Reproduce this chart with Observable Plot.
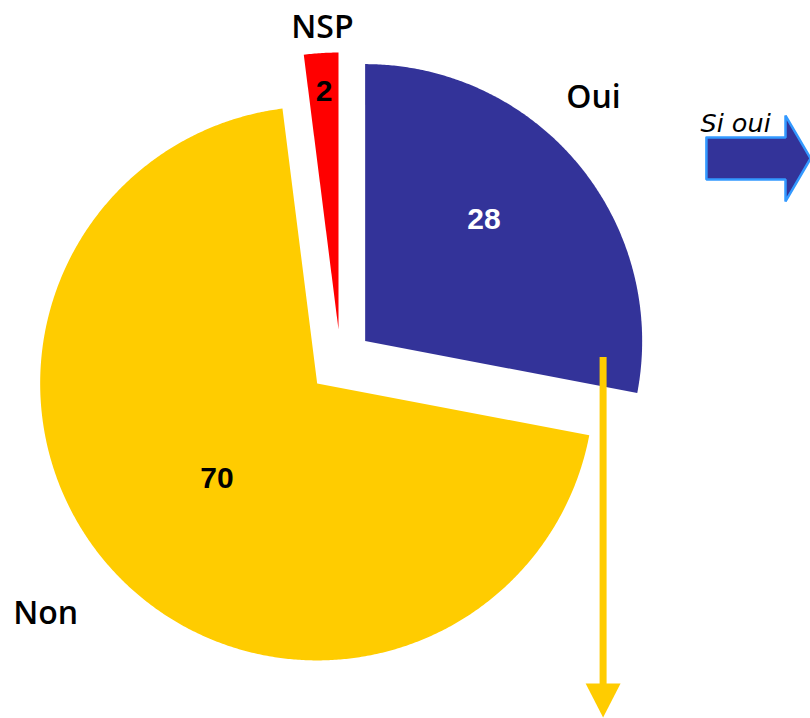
<!DOCTYPE html>
<html>
<head>
<meta charset="utf-8">
<script src="https://cdn.jsdelivr.net/npm/d3@7"></script>
<script src="https://cdn.jsdelivr.net/npm/@observablehq/plot@0.6"></script>
<style>
  html, body { margin: 0; padding: 0; background: #ffffff; }
  #chart svg { display: block; }
</style>
</head>
<body>
<div id="chart"></div>
<script>
// ---- Data ----
const categories = ["Oui", "Non", "NSP"];
const values = [28, 70, 2];
const sliceColors = ["#333399", "#FFCC00", "#FF0000"];
const valueLabelColors = ["#FFFFFF", "#000000", "#000000"];
const followUpLabel = ["Si oui"];

// ---- Layout (pie in unit coordinates, radius = 1) ----
const W = 810, H = 718;
const R = 277, CX = 340, CY = 361;
const explode = 32 / R;
const valueLabelR = [0.73, 0.614, 0.977];
const valueLabelAngle = [45.2, 226.55, -3.5];
const catLabelR = [1.32, 1.4, 1.2075];
const catLabelAngle = [43.8, 229.5, -3.1];

const deg = Math.PI / 180;
const arcs = d3.pie().sort(null).value(d => d)(values);

const slicePts = [];
arcs.forEach((a, i) => {
  const cat = categories[i];
  const mid = (a.startAngle + a.endAngle) / 2;
  const ox = explode * Math.sin(mid), oy = explode * Math.cos(mid);
  slicePts.push({cat, x: ox, y: oy});
  const n = Math.max(2, Math.ceil((a.endAngle - a.startAngle) / (0.4 * deg)));
  for (let k = 0; k <= n; k++) {
    const t = a.startAngle + (a.endAngle - a.startAngle) * k / n;
    slicePts.push({cat, x: ox + Math.sin(t), y: oy + Math.cos(t)});
  }
  slicePts.push({cat, x: ox, y: oy});
});

const valueLabels = values.map((v, i) => ({
  text: String(v),
  x: valueLabelR[i] * Math.sin(valueLabelAngle[i] * deg),
  y: valueLabelR[i] * Math.cos(valueLabelAngle[i] * deg),
  color: valueLabelColors[i]
}));
const catLabels = categories.map((c, i) => ({
  text: c,
  x: catLabelR[i] * Math.sin(catLabelAngle[i] * deg),
  y: catLabelR[i] * Math.cos(catLabelAngle[i] * deg)
}));

// ---- Annotation arrows (unit coordinates) ----
const downArrowX = 0.948;
const downShaft = [{x: downArrowX, y1: 0.014, y2: -1.17}];
const downHead = [
  {x: downArrowX - 0.063, y: -1.1625},
  {x: downArrowX + 0.063, y: -1.1625},
  {x: downArrowX, y: -1.285}
];
const rightArrow = [
  {x: 1.321, y: 0.809}, {x: 1.6065, y: 0.809}, {x: 1.6065, y: 0.888},
  {x: 1.697, y: 0.733}, {x: 1.6065, y: 0.578}, {x: 1.6065, y: 0.657},
  {x: 1.321, y: 0.657}, {x: 1.321, y: 0.809}
];
const followUpPos = [{text: followUpLabel[0], x: 1.2996, y: 0.859}];

const chart = Plot.plot({
  width: W,
  height: H,
  margin: 0,
  style: {background: "#ffffff", overflow: "visible"},
  x: {domain: [-CX / R, (W - CX) / R], axis: null},
  y: {domain: [-(H - CY) / R, CY / R], axis: null},
  marks: [
    ...categories.map((c, i) =>
      Plot.line(slicePts.filter(p => p.cat === c), {
        x: "x", y: "y", fill: sliceColors[i], stroke: "none"
      })
    ),
    Plot.ruleX(downShaft, {x: "x", y1: "y1", y2: "y2", stroke: "#FFCC00", strokeWidth: 7}),
    Plot.line(downHead, {x: "x", y: "y", fill: "#FFCC00", stroke: "none"}),
    Plot.line(rightArrow, {x: "x", y: "y", fill: "#333399", stroke: "#3399FF", strokeWidth: 2.5, strokeLinejoin: "miter"}),
    Plot.text(followUpPos, {
      x: "x", y: "y", text: "text", textAnchor: "start",
      fontFamily: "DejaVu Sans", fontStyle: "italic", fontSize: 25.5, fill: "#000000"
    }),
    Plot.text(valueLabels, {
      x: "x", y: "y", text: "text", fill: d => d.color,
      fontFamily: "Liberation Sans", fontWeight: "bold", fontSize: 30
    }),
    Plot.text(catLabels, {
      x: "x", y: "y", text: "text", fill: "#000000",
      fontFamily: "Open Sans", fontWeight: 600, fontSize: 32
    })
  ],
  color: {type: "identity"}
});

document.getElementById("chart").appendChild(chart);
</script>
</body>
</html>
